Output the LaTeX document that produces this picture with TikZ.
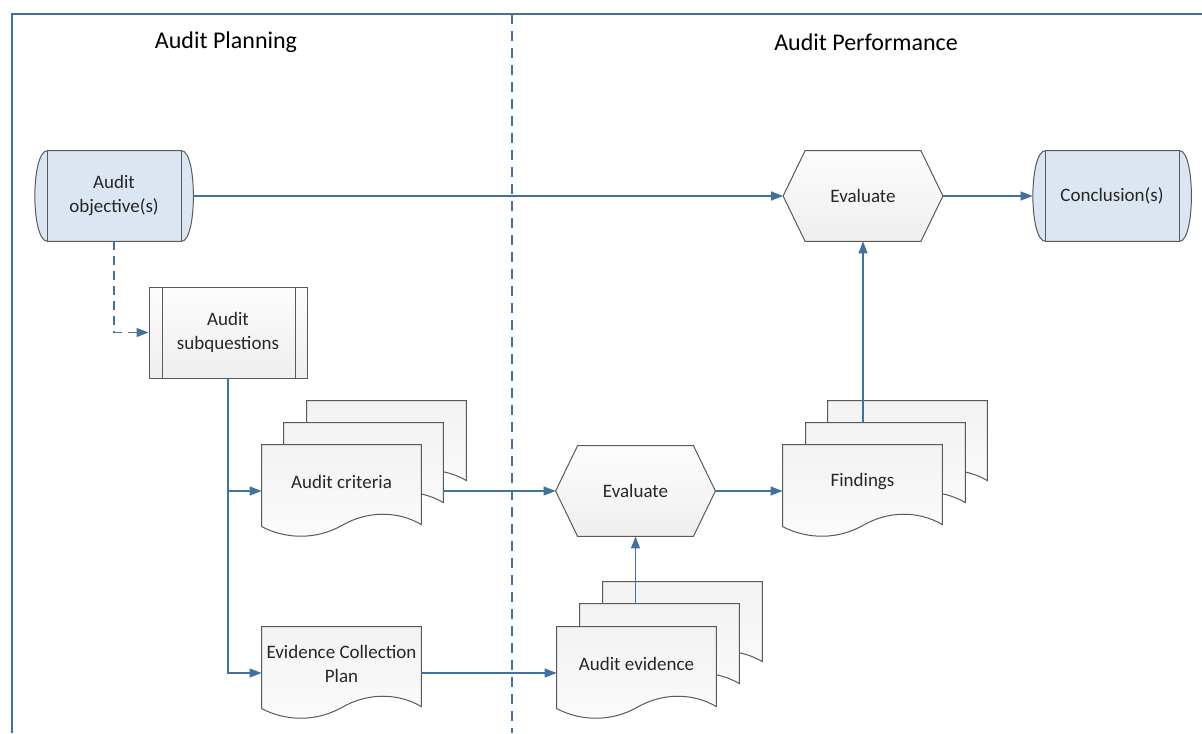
\documentclass[tikz,border=0pt]{standalone}
\usepackage{fontspec}
\setmainfont{Carlito}
\usetikzlibrary{calc,arrows.meta,backgrounds}

\definecolor{laneblue}{HTML}{41719C}
\definecolor{storefill}{HTML}{DCE6F2}
\definecolor{shapeline}{HTML}{595959}
\definecolor{textgray}{HTML}{262626}

\tikzset{
    box/.style={draw=none, inner sep=0pt, font=\fontsize{9.5}{12}\selectfont, text=textgray, align=center},
    store/.style={box, minimum width=79pt, minimum height=45pt},
    hexa/.style={box, minimum width=79.5pt, minimum height=45pt},
    proc/.style={box, draw=shapeline, line width=0.5pt, top color=gray!2, bottom color=gray!13, minimum width=79pt, minimum height=45.5pt},
    doc/.style={box, minimum width=79.5pt, minimum height=37pt},
    outline/.style={draw=shapeline, line width=0.5pt},
    flow/.style={draw=laneblue, line width=0.6pt, -{Triangle[length=6pt,width=4.5pt]}},
    lane/.style={draw=laneblue, line width=0.8pt},
    title/.style={font=\fontsize{12}{14}\selectfont, text=black},
}

% stored data: rectangle with round ends
\newcommand{\storeshape}[1]{
    \path[outline, fill=storefill]
        ($(#1.north west)+(13,0)$) -- ($(#1.north east)+(-12,0)$)
        .. controls ($(#1.north east)+(4,0)$) and ($(#1.south east)+(4,0)$) .. ($(#1.south east)+(-12,0)$)
        -- ($(#1.south west)+(13,0)$)
        .. controls ($(#1.south west)+(-4,0)$) and ($(#1.north west)+(-4,0)$) .. cycle;
    \draw[outline] ($(#1.north west)+(13,0)$) -- ($(#1.south west)+(13,0)$);
    \draw[outline] ($(#1.north east)+(-12,0)$) -- ($(#1.south east)+(-12,0)$);
}

% preparation hexagon
\newcommand{\hexshape}[1]{
    \path[outline, top color=gray!2, bottom color=gray!13]
        (#1.west) -- ($(#1.north west)+(22,0)$) -- ($(#1.north east)+(-22,0)$) -- (#1.east)
        -- ($(#1.south east)+(-22,0)$) -- ($(#1.south west)+(22,0)$) -- cycle;
}

% document with wavy bottom
\newcommand{\docshape}[1]{
    \path[outline, top color=gray!10, bottom color=gray!3]
        (#1.north west) -- (#1.north east) -- ($(#1.north east)+(0,80)$)
        .. controls ($(#1.north east)+(-24,66)$) and ($(#1.north east)+(-54,66)$) .. ($(#1.north west)+(80,81)$)
        .. controls ($(#1.north west)+(55,95)$) and ($(#1.north west)+(25,95)$) .. ($(#1.north west)+(0,82)$)
        -- cycle;
}

\begin{document}
\begin{tikzpicture}[x=0.5pt, y=-0.5pt]
    \useasboundingbox (0,0) rectangle (1202,733);

    % Lanes
    \draw[lane] (12,733) -- (12,14) -- (1202,14);
    \draw[lane, dash pattern=on 5pt off 3.5pt] (512,14) -- (512,733);
    \node[title] (plan) at (226,42) {Audit Planning};
    \node[title] (perf) at (866,42) {Audit Performance};

    % Planning
    \node[store] (obj) at (114,196) {Audit\\objective(s)};
    \node[proc] (sub) at (228,332.5) {Audit\\subquestions};
    \draw[outline] ($(sub.north west)+(14,0)$) -- ($(sub.south west)+(14,0)$);
    \draw[outline] ($(sub.north east)+(-12,0)$) -- ($(sub.south east)+(-12,0)$);
    \node[doc] (crit3) at (386.5,438) {};
    \node[doc] (crit2) at (363.5,460) {};
    \node[doc] (crit) at (341.5,482) {Audit criteria};
    \node[doc] (ecp) at (341.5,664) {Evidence Collection\\Plan};

    % Performance
    \node[hexa] (evl) at (635.5,491) {Evaluate};
    \node[doc] (evd3) at (682.5,619) {};
    \node[doc] (evd2) at (659.5,641) {};
    \node[doc] (evd) at (636.5,664) {Audit evidence};
    \node[doc] (find3) at (907.5,438) {};
    \node[doc] (find2) at (885.5,460) {};
    \node[doc] (find) at (862.5,482) {Findings};
    \node[hexa] (evu) at (863,196) {Evaluate};
    \node[store] (concl) at (1112,196) {Conclusion(s)};

    \begin{pgfonlayer}{background}
        \storeshape{obj}
        \storeshape{concl}
        \hexshape{evu}
        \hexshape{evl}
        \foreach \d in {crit3,crit2,crit,ecp,evd3,evd2,evd,find3,find2,find}
            {\docshape{\d}}
    \end{pgfonlayer}

    % Connectors
    \draw[flow] (obj.east) -- (evu.west);
    \draw[flow] (evu.east) -- (concl.west);
    \draw[flow, dash pattern=on 4.5pt off 3pt] (obj.south) |- (sub.west);
    \draw[flow] (sub.south) |- (crit.west |- evl.west);
    \draw[flow] (sub.south) |- ([yshift=-4.5pt]ecp.west);
    \draw[flow] (evl.west -| crit2.east) -- (evl.west);
    \draw[flow] (evl.east) -- (find.west |- evl.east);
    \draw[flow] (evu.south |- find2.north) -- (evu.south);
    \draw[flow] (evl.south |- evd2.north) -- (evl.south);
    \draw[flow] ([yshift=-4.5pt]ecp.east) -- ([yshift=-4.5pt]evd.west);
\end{tikzpicture}
\end{document}
